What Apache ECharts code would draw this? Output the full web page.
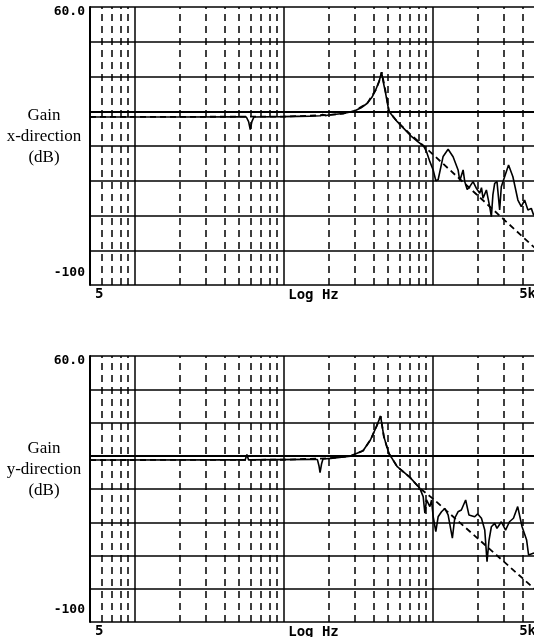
<!DOCTYPE html>
<html>
<head>
<meta charset="utf-8">
<script src="https://cdn.jsdelivr.net/npm/echarts@6/dist/echarts.min.js"></script>
<style>
html,body{margin:0;padding:0;background:#fff;}
#c{width:534px;height:637px;}
</style>
</head>
<body>
<div id="c"></div>
<script>
// ---- grid frequencies (Hz) ----
const solidGridFreqs = [10, 100, 1000];
const dashedGridFreqs = [6, 7, 8, 9, 20, 30, 40, 50, 60, 70, 80, 90,
  200, 300, 400, 500, 600, 700, 800, 900, 2000, 3000, 4000];

// ---- y tick labels ----
const yTop = 60, yBottom = -100, yStep = 20;
const yLabels = {"60": "60.0", "-100": "-100"};

// ---- x tick labels ----
const xMinLabel = '5', xMaxLabel = '5k', xName = 'Log Hz';

// ---- x-direction: measured ----
const xMeasFreq = [5, 20, 50, 56, 58, 59.5, 61, 63, 100, 150, 175, 182, 190, 200, 250, 295, 330, 363, 390, 413, 435, 453, 462, 482, 507, 540, 577, 640, 702, 780, 866, 907, 955, 1005, 1047, 1085, 1172, 1266, 1367, 1477, 1516, 1596, 1637, 1700, 1768, 1861, 1960, 2063, 2120, 2172, 2287, 2407, 2470, 2530, 2600, 2694, 2808, 2880, 3031, 3222, 3445, 3722, 3923, 4128, 4346, 4578, 4743, 5000];
const xMeasGain = [-3.3, -3.3, -3.2, -3.3, -6, -10.5, -6, -3.3, -3.1, -2.8, -2.6, -1.8, -2.5, -2.2, -1.3, 0, 2, 4.6, 8, 12.2, 17, 22.5, 18, 10.3, 0, -3, -6, -10, -13.7, -17, -20, -23.3, -29, -33.8, -40, -39.4, -26, -21.9, -26.2, -33.8, -40, -33.8, -40.5, -45, -43.4, -40.5, -44.4, -47.2, -44, -50.1, -45.3, -54.9, -60.7, -48, -41.5, -40.5, -56.8, -43.4, -37.7, -30.9, -37.7, -51.1, -54.9, -51.1, -56.8, -55.9, -59.7, -58];

// ---- x-direction: model ----
const xModelFreq = [5, 100, 200, 250, 295, 363, 413, 440, 453, 470, 490, 507, 577, 702, 866, 1000, 5000];
const xModelGain = [-3.3, -3.1, -2.2, -1.3, 0, 4.6, 12.2, 18, 22.5, 16, 8, 0, -6, -13, -19.9, -24.8, -79.8];

// ---- y-direction: measured ----
const yMeasFreq = [5, 50, 55, 56.5, 58, 150, 168, 172, 175, 179, 183, 206, 280, 340, 381, 418, 446, 469, 507, 577, 702, 818, 861, 884, 907, 955, 980, 1005, 1047, 1085, 1143, 1203, 1266, 1297, 1352, 1402, 1475, 1553, 1660, 1746, 1910, 2000, 2119, 2230, 2310, 2383, 2470, 2600, 2694, 2880, 3076, 3268, 3475, 3710, 3970, 4260, 4390, 4720, 5000];
const yMeasGain = [-2.6, -2.5, -2.5, 0.8, -2.5, -2.2, -2.3, -6, -10.2, -5, -2, -1.6, -0.2, 3, 9.5, 17.5, 23.9, 11.5, 1.4, -6.6, -13, -19.6, -24.6, -34.6, -26.6, -30.6, -26.6, -36.7, -45.7, -36.7, -33.7, -31.7, -35.6, -34.6, -49.6, -37.6, -33.7, -32.6, -26.6, -35.6, -36.7, -35, -37.6, -44.7, -63.7, -50.7, -42.7, -40.7, -43.7, -39.7, -44.7, -39.7, -37.6, -30.6, -42.7, -50.7, -59.7, -58.7, -58];

// ---- y-direction: model ----
const yModelFreq = [5, 100, 200, 280, 340, 381, 418, 446, 469, 507, 577, 702, 818, 1000, 5000];
const yModelGain = [-2.6, -2.4, -1.5, -0.2, 3, 9.5, 17.5, 23.9, 11.5, 1.4, -6.6, -13, -19.6, -25.8, -81.4];

const pairs = (f, g) => f.map((v, i) => [v, g[i]]);

const font = "'DejaVu Sans Mono', monospace";
const serif = "'Liberation Serif', 'Times New Roman', serif";

function xAxisCfg(idx) {
  return {
    gridIndex: idx, type: 'log', logBase: 10, min: 5, max: 5000,
    name: xName, nameLocation: 'middle', nameGap: 3,
    nameTextStyle: {fontFamily: font, fontWeight: 'bold', fontSize: 14, color: '#000', verticalAlign: 'top'},
    axisLine: {show: true, lineStyle: {color: '#000', width: 2}},
    axisTick: {show: false}, axisLabel: {show: false},
    splitLine: {show: false}, minorSplitLine: {show: false}
  };
}
function yAxisCfg(idx) {
  return {
    gridIndex: idx, type: 'value', min: yBottom, max: yTop, interval: yStep,
    axisLine: {show: true, lineStyle: {color: '#000', width: 2}},
    axisTick: {show: false},
    splitLine: {show: true, lineStyle: {color: '#000', width: 1.6}},
    axisLabel: {
      margin: 5, color: '#000',
      formatter: v => v === yTop ? '{t|' + yLabels[String(v)] + '}' : (v === yBottom ? '{b|' + yLabels[String(v)] + '}' : ''),
      rich: {
        t: {fontFamily: font, fontWeight: 'bold', fontSize: 13, color: '#000', padding: [9, 0, 0, 0]},
        b: {fontFamily: font, fontWeight: 'bold', fontSize: 13, color: '#000', padding: [0, 0, 24, 0]}
      }
    }
  };
}
function markGrid(freqs, dashed) {
  return {
    silent: true, symbol: ['none', 'none'], animation: false,
    label: {show: false},
    lineStyle: {color: '#000', width: 1.5, type: dashed ? [7, 5] : 'solid'},
    emphasis: {disabled: true},
    data: freqs.map(f => ({xAxis: f}))
  };
}
function measSeries(idx, data) {
  return {
    type: 'line', xAxisIndex: idx, yAxisIndex: idx, data: data,
    showSymbol: false, symbol: 'none', smooth: false, z: 3,
    lineStyle: {color: '#000', width: 1.6},
    markLine: markGrid(solidGridFreqs, false)
  };
}
function modelSeries(idx, data) {
  return {
    type: 'line', xAxisIndex: idx, yAxisIndex: idx, data: data,
    showSymbol: false, symbol: 'none', smooth: false, z: 3,
    lineStyle: {color: '#000', width: 1.8, type: [6, 4]},
    markLine: markGrid(dashedGridFreqs, true)
  };
}

const chart = echarts.init(document.getElementById('c'), null, {renderer: 'canvas'});
chart.setOption({
  animation: false,
  backgroundColor: '#fff',
  grid: [
    {left: 90, top: 7, right: -3, height: 278, outerBoundsMode: 'none', containLabel: false},
    {left: 90, top: 356, right: -3, height: 266, outerBoundsMode: 'none', containLabel: false}
  ],
  xAxis: [xAxisCfg(0), xAxisCfg(1)],
  yAxis: [yAxisCfg(0), yAxisCfg(1)],
  series: [
    modelSeries(0, pairs(xModelFreq, xModelGain)),
    measSeries(0, pairs(xMeasFreq, xMeasGain)),
    modelSeries(1, pairs(yModelFreq, yModelGain)),
    measSeries(1, pairs(yMeasFreq, yMeasGain))
  ],
  graphic: [
    {type: 'text', x: 44, y: 137, style: {text: 'Gain\nx-direction\n(dB)', font: '17px ' + serif, fill: '#000', align: 'center', verticalAlign: 'middle', lineHeight: 21}},
    {type: 'text', x: 95, y: 287, style: {text: xMinLabel, font: 'bold 14px ' + font, fill: '#000'}},
    {type: 'text', x: 536, y: 287, style: {text: xMaxLabel, font: 'bold 14px ' + font, fill: '#000', align: 'right'}},
    {type: 'text', x: 44, y: 470, style: {text: 'Gain\ny-direction\n(dB)', font: '17px ' + serif, fill: '#000', align: 'center', verticalAlign: 'middle', lineHeight: 21}},
    {type: 'text', x: 95, y: 624, style: {text: xMinLabel, font: 'bold 14px ' + font, fill: '#000'}},
    {type: 'text', x: 536, y: 624, style: {text: xMaxLabel, font: 'bold 14px ' + font, fill: '#000', align: 'right'}}
  ]
});
</script>
</body>
</html>
